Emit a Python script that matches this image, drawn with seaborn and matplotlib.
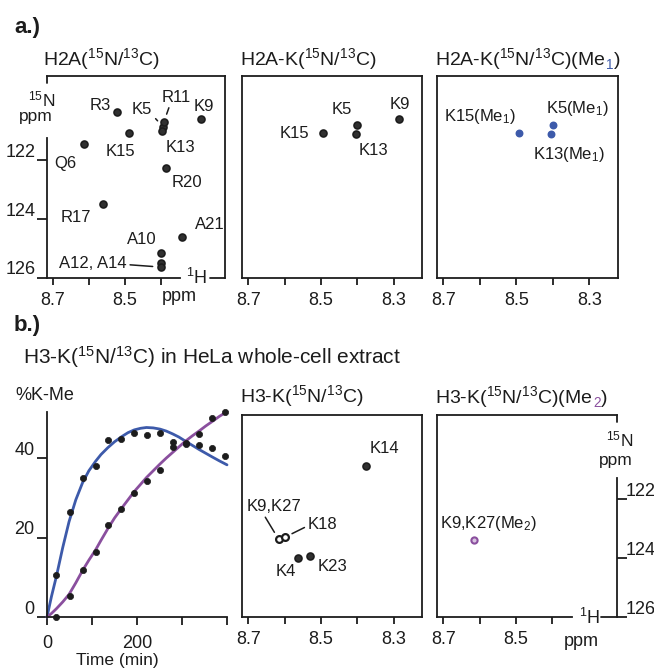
import matplotlib
matplotlib.use('Agg')
import matplotlib.pyplot as plt
import matplotlib.transforms as mtransforms
import seaborn as sns
import pandas as pd

# ------------------------------------------------------------------ data
# a.) H2A(15N/13C) amide cross peaks (1H ppm, 15N ppm)
h2a_res = ['R3', 'K5', 'R11', 'K9', 'K15', 'Q6', 'K13', 'R20', 'R17', 'A21', 'A10', 'A12', 'A14']
h2a_1h = [8.522, 8.394, 8.392, 8.289, 8.489, 8.614, 8.397, 8.386, 8.561, 8.342, 8.400, 8.400, 8.400]
h2a_15n = [120.37, 120.88, 120.71, 120.61, 121.08, 121.46, 121.02, 122.27, 123.49, 124.61, 125.15, 125.50, 125.63]

# H2A-K(15N/13C)
h2ak_res = ['K15', 'K5', 'K13', 'K9']
h2ak_1h = [8.494, 8.400, 8.404, 8.285]
h2ak_15n = [121.09, 120.81, 121.11, 120.62]

# H2A-K(15N/13C)(Me1)
h2ame_res = ['K15(Me$\\mathregular{_1}$)', 'K5(Me$\\mathregular{_1}$)', 'K13(Me$\\mathregular{_1}$)']
h2ame_1h = [8.494, 8.400, 8.406]
h2ame_15n = [121.09, 120.81, 121.10]

# b.) time course in HeLa whole-cell extract (%K-Me)
time_min = [21, 50, 79, 108, 136, 165, 194, 223, 251, 280, 309, 338, 367, 396]
me1_pct = [10.6, 26.5, 34.9, 38.0, 44.6, 44.8, 46.4, 45.8, 46.3, 44.1, 43.9, 43.3, 42.5, 40.4]
me2_pct = [0.0, 5.4, 11.8, 16.3, 23.2, 27.2, 31.2, 34.3, 37.0, 42.9, 43.6, 46.1, 50.0, 51.7]

# fitted curves
fit_t = [0, 10, 21, 35, 49, 64, 79, 93, 108, 120, 135, 150, 166, 180, 194, 208, 221, 236,
         251, 265, 279, 293, 307, 323, 339, 353, 367, 383, 400]
fit_me1 = [0, 5.2, 10.3, 17.5, 24.0, 29.5, 33.8, 36.8, 39.2, 40.9, 42.6, 44.1, 45.4, 46.4,
           47.1, 47.5, 47.7, 47.6, 47.3, 46.8, 46.1, 45.3, 44.3, 43.2, 42.1, 41.2, 40.3, 39.3, 38.3]
fit_me2 = [0, 0.9, 2.1, 3.8, 5.7, 8.6, 11.7, 14.3, 16.9, 19.3, 22.2, 24.9, 27.4, 29.5,
           31.6, 33.4, 35.1, 36.8, 38.5, 40.0, 41.4, 42.8, 44.2, 45.6, 46.9, 48.1, 49.2, 50.5, 51.7]

# H3-K(15N/13C)
h3k_res = ['K14', 'K9,K27', 'K18', 'K4', 'K23']
h3k_1h = [8.376, 8.616, 8.600, 8.563, 8.531]
h3k_15n = [120.87, 123.37, 123.30, 123.99, 123.93]

# H3-K(15N/13C)(Me2)
h3me_res = ['K9,K27(Me$\\mathregular{_2}$)']
h3me_1h = [8.616]
h3me_15n = [123.39]

# axis ticks
h_ticks = [8.7, 8.6, 8.5, 8.4, 8.3]
h_ticklabels = ['8.7', '', '8.5', '', '8.3']
n_ticks = [122, 124, 126]
n_ticklabels = ['122', '124', '126']
t_ticks = [0, 100, 200, 300, 400]
t_ticklabels = ['0', '', '200', '', '']
pct_ticks = [0, 20, 40]
pct_ticklabels = ['0', '20', '40']

# ------------------------------------------------------------------ style
sns.set_style('white')
plt.rcParams['font.family'] = ['Liberation Sans', 'DejaVu Sans']
plt.rcParams.update({
    'mathtext.fontset': 'custom',
    'mathtext.rm': 'Liberation Sans',
    'mathtext.it': 'Liberation Sans:italic',
    'mathtext.bf': 'Liberation Sans:bold',
    'mathtext.sf': 'Liberation Sans',
})

W, H, DPI = 654, 669, 100
fig = plt.figure(figsize=(W / DPI, H / DPI), dpi=DPI)
fig.patch.set_facecolor('white')

INK = '#1c1c1c'
BLUE = '#3d5aaa'
PURPLE = '#8a4f9e'
LW = 1.3
TICK_FS = 13
LAB_FS = 12
TITLE_FS = 14

H_LIM = (8.717, 8.222)
N_LIM = (126.0, 119.15)
up10 = mtransforms.ScaledTranslation(0, 10 / DPI, fig.dpi_scale_trans)


def px_ax(x0, y0, x1, y1):
    ax = fig.add_axes([x0 / W, 1 - y1 / H, (x1 - x0) / W, (y1 - y0) / H])
    ax.set_facecolor('white')
    for s in ax.spines.values():
        s.set_linewidth(LW)
        s.set_color(INK)
    return ax


def ftext(x, y, s, **kw):
    kw.setdefault('ha', 'left')
    kw.setdefault('va', 'center')
    kw.setdefault('color', INK)
    return fig.text(x / W, 1 - y / H, s, **kw)


def nmr_axes(x0, y0, x1, y1, nticks=5):
    ax = px_ax(x0, y0, x1, y1)
    ax.set_xlim(*H_LIM)
    ax.set_ylim(*N_LIM)
    ax.set_xticks(h_ticks[:nticks])
    ax.set_xticklabels(h_ticklabels[:nticks])
    ax.tick_params(axis='x', bottom=True, direction='out', length=5, width=LW,
                   pad=5, labelsize=TICK_FS, colors=INK)
    ax.set_yticks([])
    ax.set_xlabel('')
    ax.set_ylabel('')
    return ax


def peaks(ax, x, y, face, edge, s=25, lw=1.2):
    sns.scatterplot(x=x, y=y, ax=ax, s=s, color=face, edgecolor=edge,
                    linewidth=lw, legend=False, zorder=3)
    ax.set_xlabel('')
    ax.set_ylabel('')


def label(ax, text, x, y, dx, dy, leader=None, color=INK):
    kw = {}
    if leader is not None:
        kw['arrowprops'] = dict(arrowstyle='-', color=color, lw=1.1,
                                shrinkA=0, shrinkB=6, relpos=leader)
    ax.annotate(text, (x, y), xytext=(dx, -dy), textcoords='offset pixels',
                ha='center', va='center', fontsize=LAB_FS, color=color, **kw)


# ------------------------------------------------------------------ a1
a1 = nmr_axes(47, 76, 225, 278, nticks=4)
peaks(a1, h2a_1h, h2a_15n, '#303030', INK)
a1.spines['left'].set_bounds(121.25, 126)
a1.spines['bottom'].set_bounds(8.717, 8.347)
a1.plot([0.913, 1.0], [0, 0], transform=a1.transAxes, color=INK, lw=LW, clip_on=False)
a1.plot([0, 0], [1, 1 - 7 / 202], transform=a1.transAxes, color=INK, lw=LW, clip_on=False)
a1.set_yticks(n_ticks)
a1.set_yticklabels(n_ticklabels)
a1.tick_params(axis='y', left=True, direction='out', length=7, width=LW, pad=1,
               labelsize=TICK_FS, colors=INK)
for t in a1.get_yticklabels():
    t.set_transform(t.get_transform() + up10)

a1_layout = {'R3': (-17, -6, None), 'K5': (-21, -18, (1, 0.1)), 'R11': (12, -25, (0.3, 0)),
             'K9': (3, -13, None), 'K15': (-9, 19, None), 'Q6': (-19, 19, None),
             'K13': (18, 16, None), 'R20': (21, 14, None), 'R17': (-27, 14, None),
             'A21': (28, -13, None), 'A10': (-19, -13, None), 'A14': (-68, -4, (1, 0.4))}
for r, x, y in zip(h2a_res, h2a_1h, h2a_15n):
    if r in a1_layout:
        dx, dy, ld = a1_layout[r]
        txt = 'A12, A14' if r == 'A14' else r
        label(a1, txt, x, y, dx, dy, ld)

ftext(42, 99, '$\\mathregular{^{15}}$N', ha='center', fontsize=12.5)
ftext(36, 117, 'ppm', ha='center', fontsize=12.5)
ftext(197, 278, '$\\mathregular{^{1}}$H', ha='center', fontsize=TICK_FS)
ftext(179, 297, 'ppm', ha='center', fontsize=TICK_FS)

# ------------------------------------------------------------------ a2
a2 = nmr_axes(242, 76, 422, 278)
peaks(a2, h2ak_1h, h2ak_15n, '#303030', INK)
a2_layout = {'K15': (-29, 0), 'K5': (-15, -15), 'K13': (18, 17), 'K9': (1, -15)}
for r, x, y in zip(h2ak_res, h2ak_1h, h2ak_15n):
    dx, dy = a2_layout[r]
    label(a2, r, x, y, dx, dy)

# ------------------------------------------------------------------ a3
a3 = nmr_axes(437, 76, 618, 278)
peaks(a3, h2ame_1h, h2ame_15n, BLUE, BLUE, s=22, lw=1.0)
a3_offsets = [(-39, -17), (24, -16), (18, 21)]
for r, x, y, (dx, dy) in zip(h2ame_res, h2ame_1h, h2ame_15n, a3_offsets):
    label(a3, r, x, y, dx, dy)

# ------------------------------------------------------------------ b1
b1 = px_ax(47, 412, 227, 617)
sns.lineplot(x=fit_t, y=fit_me1, ax=b1, color=BLUE, lw=2.0, zorder=2)
sns.lineplot(x=fit_t, y=fit_me2, ax=b1, color=PURPLE, lw=2.0, zorder=2)
sns.scatterplot(x=time_min, y=me1_pct, ax=b1, color=INK, s=20, edgecolor=INK,
                linewidth=0.5, legend=False, zorder=3, clip_on=False)
sns.scatterplot(x=time_min, y=me2_pct, ax=b1, color=INK, s=20, edgecolor=INK,
                linewidth=0.5, legend=False, zorder=3, clip_on=False)
b1.set_xlim(0, 400)
b1.set_ylim(0, 51.6)
b1.spines['top'].set_visible(False)
b1.spines['right'].set_visible(False)
b1.set_xticks(t_ticks)
b1.set_xticklabels(t_ticklabels)
b1.set_yticks(pct_ticks)
b1.set_yticklabels(pct_ticklabels)
b1.tick_params(axis='x', bottom=True, direction='out', length=6, width=LW, pad=7,
               labelsize=TICK_FS, colors=INK)
b1.tick_params(axis='y', left=True, direction='out', length=7, width=LW, pad=2,
               labelsize=TICK_FS, colors=INK)
for t in b1.get_yticklabels():
    t.set_transform(t.get_transform() + up10)
b1.set_xlabel('')
b1.set_ylabel('')
for ln in b1.lines:
    ln.set_clip_on(False)

# ------------------------------------------------------------------ b2
b2 = nmr_axes(242, 415, 422, 617)
hollow = ['K9,K27', 'K18']
for r, x, y in zip(h3k_res, h3k_1h, h3k_15n):
    if r in hollow:
        peaks(b2, [x], [y], 'white', INK, s=24, lw=1.6)
    else:
        peaks(b2, [x], [y], '#303030', INK)
b2_layout = {'K14': (18, -17, None), 'K9,K27': (-5, -33, (0.31, 0)),
             'K18': (38, -13, (0, 0.4)), 'K4': (-12, 14, None), 'K23': (23, 11, None)}
for r, x, y in zip(h3k_res, h3k_1h, h3k_15n):
    dx, dy, ld = b2_layout[r]
    label(b2, r, x, y, dx, dy, ld)

# ------------------------------------------------------------------ b3
b3 = nmr_axes(437, 415, 617, 617, nticks=4)
peaks(b3, h3me_1h, h3me_15n, '#d8c3e0', PURPLE, s=20, lw=1.5)
label(b3, h3me_res[0], h3me_1h[0], h3me_15n[0], 15, -17)
b3.spines['right'].set_bounds(121.29, 126)
b3.spines['bottom'].set_bounds(8.717, 8.347)
b3.plot([0.913, 1.0], [0, 0], transform=b3.transAxes, color=INK, lw=LW, clip_on=False)
b3.plot([1, 1], [1, 1 - 7 / 202], transform=b3.transAxes, color=INK, lw=LW, clip_on=False)
b3.yaxis.tick_right()
b3.set_yticks(n_ticks)
b3.set_yticklabels(n_ticklabels)
b3.tick_params(axis='y', right=True, left=False, direction='out', length=7, width=LW,
               pad=-1, labelsize=TICK_FS, colors=INK)
for t in b3.get_yticklabels():
    t.set_transform(t.get_transform() + up10)
ftext(620, 439, '$\\mathregular{^{15}}$N', ha='center', fontsize=12.5)
ftext(616, 461, 'ppm', ha='center', fontsize=12.5)
ftext(590, 618, '$\\mathregular{^{1}}$H', ha='center', fontsize=TICK_FS)
ftext(581, 641, 'ppm', ha='center', fontsize=TICK_FS)

# ------------------------------------------------------------------ texts
ftext(14, 28, 'a.)', fontsize=16, fontweight='bold')
ftext(14, 326, 'b.)', fontsize=16, fontweight='bold')
iso = '($\\mathregular{^{15}}$N/$\\mathregular{^{13}}$C)'
ftext(43, 65, 'H2A' + iso, fontsize=TITLE_FS, va='baseline')
ftext(240, 65, 'H2A-K' + iso, fontsize=TITLE_FS, va='baseline')
t_a3 = ftext(435, 65, 'H2A-K' + iso + '(Me', fontsize=TITLE_FS, va='baseline')
ftext(23, 364, 'H3-K' + iso + ' in HeLa whole-cell extract', fontsize=15, va='baseline')
ftext(15, 395, '%K-Me', fontsize=TICK_FS)
ftext(240, 402, 'H3-K' + iso, fontsize=TITLE_FS, va='baseline')
t_b3 = ftext(435, 403, 'H3-K' + iso + '(Me', fontsize=TITLE_FS, va='baseline')
ftext(117, 660, 'Time (min)', ha='center', fontsize=12.5)

fig.canvas.draw()
renderer = fig.canvas.get_renderer()
for base, yb, sub, col in [(t_a3, 65, '1', BLUE), (t_b3, 403, '2', PURPLE)]:
    bb = base.get_window_extent(renderer)
    st = ftext(bb.x1 + 0.5, yb + 4, sub, fontsize=TITLE_FS * 0.7, va='baseline', color=col)
    sb = st.get_window_extent(renderer)
    ftext(sb.x1 + 0.5, yb, ')', fontsize=TITLE_FS, va='baseline')

fig.savefig('out.png', dpi=DPI, facecolor='white')
